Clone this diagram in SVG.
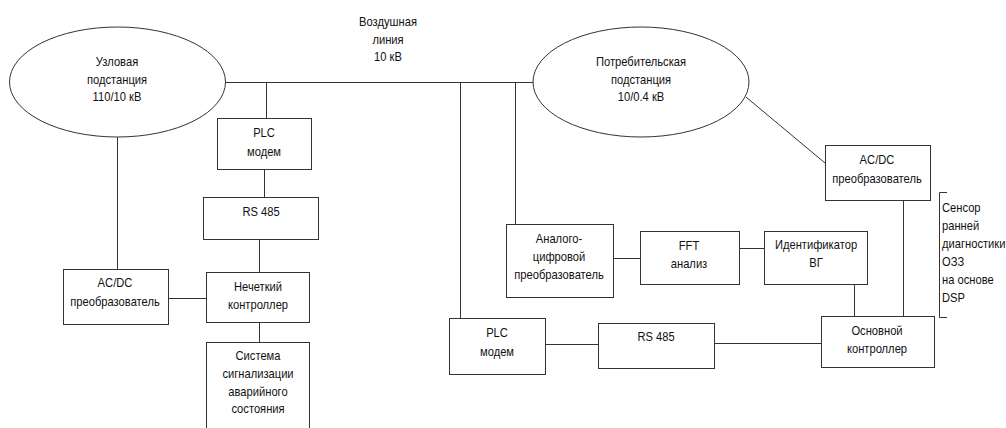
<svg xmlns="http://www.w3.org/2000/svg" width="1006" height="428" viewBox="0 0 1006 428">
<style>
.b{fill:#fff;stroke:#333;stroke-width:1}
.c{fill:none;stroke:#333;stroke-width:1}
text{font-family:"Liberation Sans",Arial,sans-serif;font-size:13px;fill:#111;text-anchor:middle}
.l{text-anchor:start}
</style>
<rect width="1006" height="428" fill="#fff"/>
<g id="connectors">
<path class="c" d="M225 82.5H535"/>
<path class="c" d="M266.5 82.5V118"/>
<path class="c" d="M460.5 82.5V318"/>
<path class="c" d="M515.5 82.5V224"/>
<path class="c" d="M117.5 137V269"/>
<path class="c" d="M264.5 169V197"/>
<path class="c" d="M259.5 239V272"/>
<path class="c" d="M168 298.5H206"/>
<path class="c" d="M259.5 322V342"/>
<path class="c" d="M613 258.5H640"/>
<path class="c" d="M739 248.5H764"/>
<path class="c" d="M545 344.5H598"/>
<path class="c" d="M714 343.5H821"/>
<path class="c" d="M854.5 284V316"/>
<path class="c" d="M903.5 200V316"/>
<path class="c" d="M746 97L825 163"/>
<path class="c" d="M947 192.5H939.5V317.5H947"/>
</g>
<g id="n_uzl">
<ellipse class="b" cx="117.5" cy="82" rx="108" ry="55"/>
<text transform="translate(117 66) scale(.86 1)">Узловая</text>
<text transform="translate(117 84) scale(.86 1)">подстанция</text>
<text transform="translate(117 101) scale(.86 1)">110/10 кВ</text>
</g>
<g id="n_vl">
<text transform="translate(388 26) scale(.86 1)">Воздушная</text>
<text transform="translate(388 44) scale(.86 1)">линия</text>
<text transform="translate(388 61) scale(.86 1)">10 кВ</text>
</g>
<g id="n_potr">
<ellipse class="b" cx="641" cy="82" rx="108" ry="55"/>
<text transform="translate(641 66) scale(.86 1)">Потребительская</text>
<text transform="translate(641 84) scale(.86 1)">подстанция</text>
<text transform="translate(641 101) scale(.86 1)">10/0.4 кВ</text>
</g>
<g id="n_plc1">
<rect class="b" x="217.5" y="118.5" width="94" height="51"/>
<text transform="translate(264 137) scale(.86 1)">PLC</text>
<text transform="translate(264 156) scale(.86 1)">модем</text>
</g>
<g id="n_rs1">
<rect class="b" x="203.5" y="197.5" width="115" height="42"/>
<text transform="translate(261 216) scale(.86 1)">RS 485</text>
</g>
<g id="n_fuzzy">
<rect class="b" x="206.5" y="272.5" width="103" height="50"/>
<text transform="translate(258 291) scale(.86 1)">Нечеткий</text>
<text transform="translate(258 309) scale(.86 1)">контроллер</text>
</g>
<g id="n_acdc1">
<rect class="b" x="63.5" y="269.5" width="105" height="55"/>
<text transform="translate(115 287) scale(.86 1)">AC/DC</text>
<text transform="translate(115 306) scale(.86 1)">преобразователь</text>
</g>
<g id="n_alarm">
<rect class="b" x="206.5" y="342.5" width="103" height="90"/>
<text transform="translate(258 360) scale(.86 1)">Система</text>
<text transform="translate(258 378) scale(.86 1)">сигнализации</text>
<text transform="translate(258 396) scale(.86 1)">аварийного</text>
<text transform="translate(258 413) scale(.86 1)">состояния</text>
</g>
<g id="n_adc">
<rect class="b" x="506.5" y="224.5" width="107" height="73"/>
<text transform="translate(559 243) scale(.86 1)">Аналого-</text>
<text transform="translate(559 261) scale(.86 1)">цифровой</text>
<text transform="translate(559 279) scale(.86 1)">преобразователь</text>
</g>
<g id="n_fft">
<rect class="b" x="640.5" y="231.5" width="99" height="53"/>
<text transform="translate(689 250) scale(.86 1)">FFT</text>
<text transform="translate(689 268) scale(.86 1)">анализ</text>
</g>
<g id="n_ident">
<rect class="b" x="764.5" y="231.5" width="103" height="53"/>
<text transform="translate(816 249) scale(.86 1)">Идентификатор</text>
<text transform="translate(816 267) scale(.86 1)">ВГ</text>
</g>
<g id="n_acdc2">
<rect class="b" x="825.5" y="145.5" width="105" height="55"/>
<text transform="translate(877 164) scale(.86 1)">AC/DC</text>
<text transform="translate(877 183) scale(.86 1)">преобразователь</text>
</g>
<g id="n_plc2">
<rect class="b" x="449.5" y="318.5" width="96" height="56"/>
<text transform="translate(497 337) scale(.86 1)">PLC</text>
<text transform="translate(497 356) scale(.86 1)">модем</text>
</g>
<g id="n_rs2">
<rect class="b" x="598.5" y="323.5" width="116" height="45"/>
<text transform="translate(656 341) scale(.86 1)">RS 485</text>
</g>
<g id="n_main">
<rect class="b" x="821.5" y="316.5" width="113" height="51"/>
<text transform="translate(877 335) scale(.86 1)">Основной</text>
<text transform="translate(877 353) scale(.86 1)">контроллер</text>
</g>
<g id="n_sensor">
<text class="l" transform="translate(942 212) scale(.86 1)">Сенсор</text>
<text class="l" transform="translate(942 230) scale(.86 1)">ранней</text>
<text class="l" transform="translate(942 248) scale(.86 1)">диагностики</text>
<text class="l" transform="translate(942 266) scale(.86 1)">ОЗЗ</text>
<text class="l" transform="translate(942 284) scale(.86 1)">на основе</text>
<text class="l" transform="translate(942 302) scale(.86 1)">DSP</text>
</g>
</svg>
